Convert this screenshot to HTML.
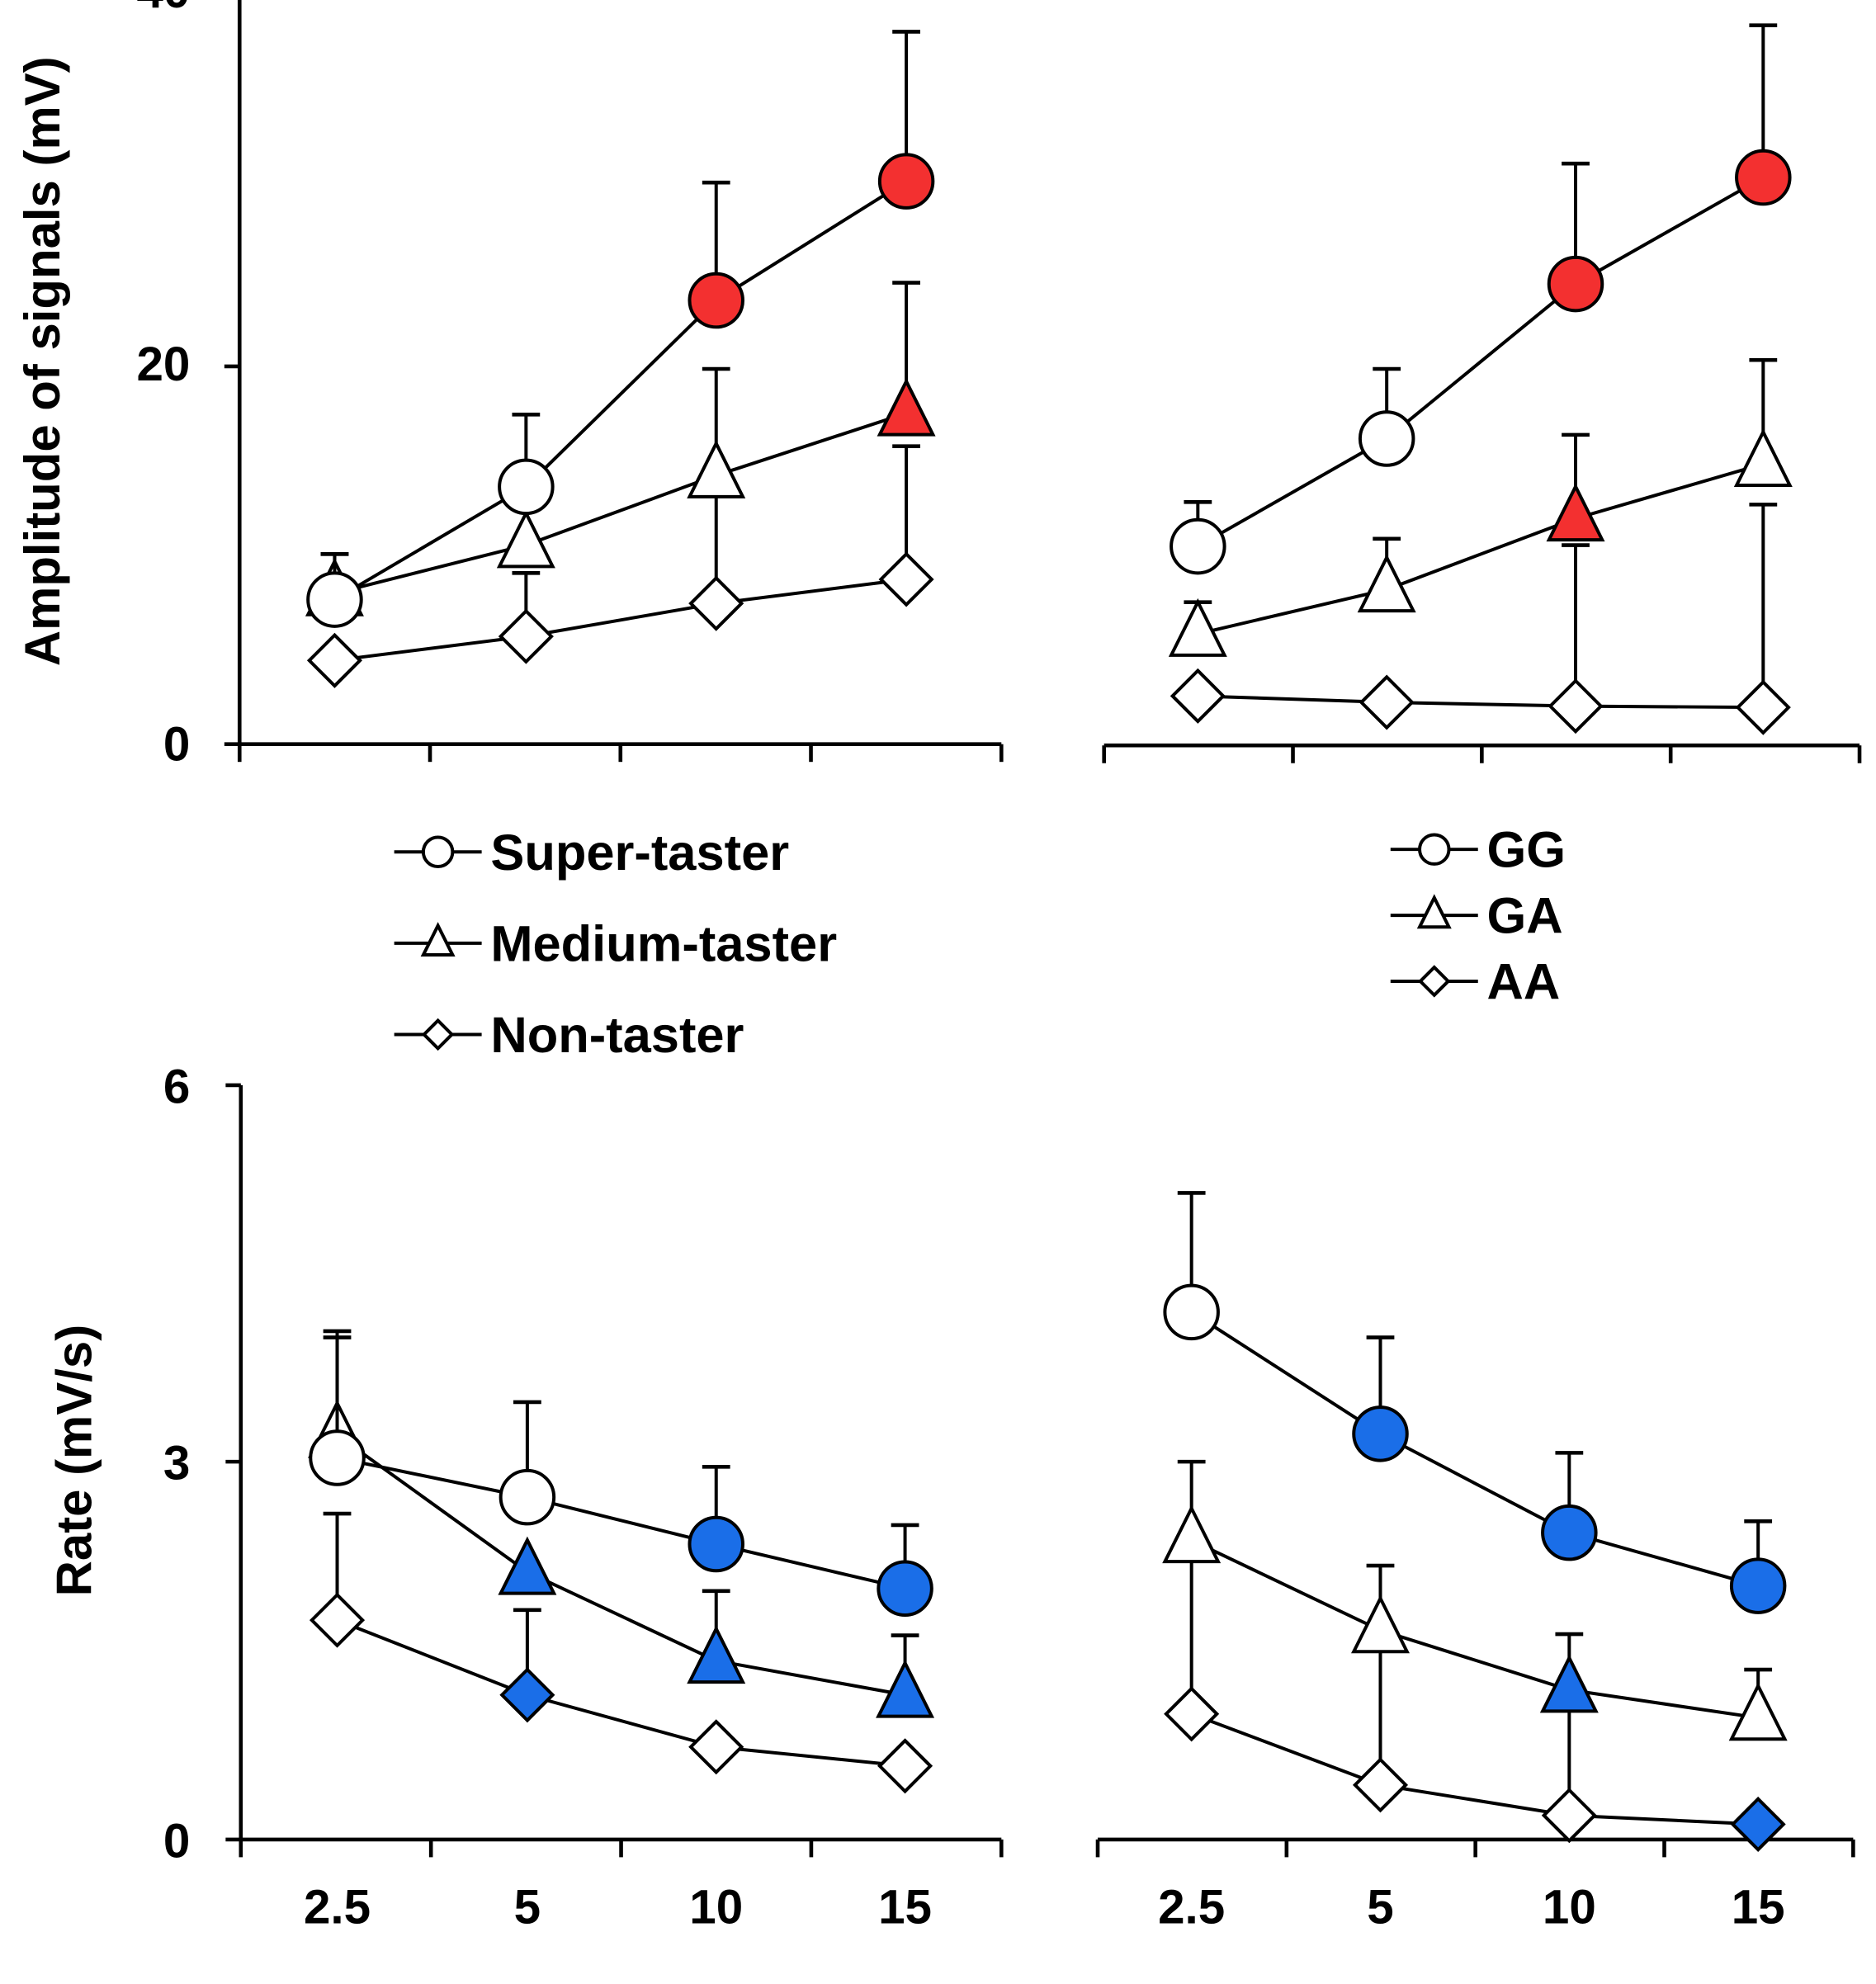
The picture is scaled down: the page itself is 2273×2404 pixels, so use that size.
<!DOCTYPE html>
<html><head><meta charset="utf-8"><style>html,body{margin:0;padding:0;background:#fff}svg{display:block}</style></head>
<body>
<svg id="s" xmlns="http://www.w3.org/2000/svg" width="2273" height="2404" viewBox="0 0 1480 1565" preserveAspectRatio="none" font-family="Liberation Sans, Arial, sans-serif" font-weight="bold">
<rect width="1480" height="1565" fill="#fff"/>
<g id="g" stroke="#000" stroke-width="2.6" fill="none"></g>
<g font-size="38" fill="#000">
<text x="150" y="300" text-anchor="end">20</text>
<text x="150" y="600" text-anchor="end">0</text>
<text x="150" y="6" text-anchor="end">40</text>
<text x="150" y="870" text-anchor="end">6</text>
<text x="150" y="1167" text-anchor="end">3</text>
<text x="150" y="1465" text-anchor="end">0</text>
<g text-anchor="middle">
<text x="266" y="1517">2.5</text><text x="416" y="1517">5</text><text x="565" y="1517">10</text><text x="714" y="1517">15</text>
<text x="940" y="1517">2.5</text><text x="1089" y="1517">5</text><text x="1238" y="1517">10</text><text x="1387" y="1517">15</text>
</g>
<text transform="translate(47,285) rotate(-90)" text-anchor="middle" font-size="39">Amplitude of signals (mV)</text>
<text transform="translate(72,1152) rotate(-90)" text-anchor="middle" font-size="39">Rate (mV/s)</text>
<g font-size="40">
<text x="387" y="686">Super-taster</text>
<text x="387" y="758">Medium-taster</text>
<text x="387" y="830">Non-taster</text>
<text x="1173" y="684">GG</text>
<text x="1173" y="736">GA</text>
<text x="1173" y="788">AA</text>
</g>
</g>
</svg>
<script>
const g=document.getElementById('g');const NS='http://www.w3.org/2000/svg';
function el(t,a){const e=document.createElementNS(NS,t);for(const k in a)e.setAttribute(k,a[k]);g.appendChild(e);return e;}
function line(x1,y1,x2,y2,w){el('line',{x1,y1,x2,y2,'stroke-width':w||2.6});}
function marker(type,x,y,fill,s){s=s||1;fill=fill||'#fff';
 if(type=='c')el('circle',{cx:x,cy:y,r:21*s,fill});
 else if(type=='t'){const h=21*s;el('polygon',{points:`${x},${y-h*1.2} ${x-h},${y+h*0.8} ${x+h},${y+h*0.8}`,fill});}
 else {const h=20*s;el('polygon',{points:`${x},${y-h} ${x+h},${y} ${x},${y+h} ${x-h},${y}`,fill});}}
function axes(x0,x1,y0,ytop,ticksY){
 line(x0,y0,x1,y0,3);
 for(let i=0;i<5;i++){const x=x0+(x1-x0)*i/4;line(x,y0,x,y0+14,3);}
 if(ytop!==null){line(x0,y0,x0,ytop,3);ticksY.forEach(y=>line(x0-12,y,x0,y,3));}
}
axes(189,790,587,-5,[587,289,-9]);
axes(871,1467,588,null,[]);
axes(190,790,1451,856,[1451,1153,856]);
axes(866,1462,1451,null,[]);
const R='#f33030',B='#1a6ee8';
function series(xs,ys,tops,type,fills,nocap){
 xs.forEach((x,i)=>{if(tops[i]!=null){line(x,ys[i],x,tops[i]);if(!(nocap&&nocap[i]))line(x-11,tops[i],x+11,tops[i],3);}});
 el('polyline',{points:xs.map((x,i)=>x+','+ys[i]).join(' ')});
 xs.forEach((x,i)=>marker(type,x,ys[i],fills[i]));
}
const X1=[264,415,565,715],X2=[945,1094,1243,1391],X3=[266,416,565,714],X4=[940,1089,1238,1387];
series(X1,[521,502,476,457],[null,452,380,352],'d',[],[0,0,1,0]);
series(X1,[468,430,375,326],[437,null,291,223],'t',[0,0,0,R]);
series(X1,[473,384,237,143],[437,327,144,25],'c',[0,0,R,R]);
series(X2,[549,554,557,558],[null,null,430,398],'d',[]);
series(X2,[500,465,409,366],[475,425,343,284],'t',[0,0,R,0]);
series(X2,[431,346,224,140],[396,291,129,20],'c',[0,0,R,R]);
series(X3,[1278,1337,1378,1393],[1194,1270,null,null],'d',[0,B,0,0]);
series(X3,[1132,1240,1310,1337],[1050,null,1255,1290],'t',[0,B,B,B]);
series(X3,[1150,1181,1218,1253],[1055,1106,1157,1203],'c',[0,0,B,B]);
series(X4,[1352,1408,1432,1439],[1215,1286,1333,null],'d',[0,0,0,B],[1,1,1,0]);
series(X4,[1215,1286,1333,1355],[1153,1235,1289,1317],'t',[0,0,B,0]);
series(X4,[1035,1131,1209,1251],[941,1055,1146,1200],'c',[0,B,B,B]);
function leg(x1,x2,y,type){line(x1,y,x2,y);marker(type,(x1+x2)/2,y,'#fff',0.55);}
leg(311,380,672,'c');leg(311,380,744,'t');leg(311,380,816,'d');
leg(1097,1166,670,'c');leg(1097,1166,722,'t');leg(1097,1166,774,'d');
</script>
</body></html>
